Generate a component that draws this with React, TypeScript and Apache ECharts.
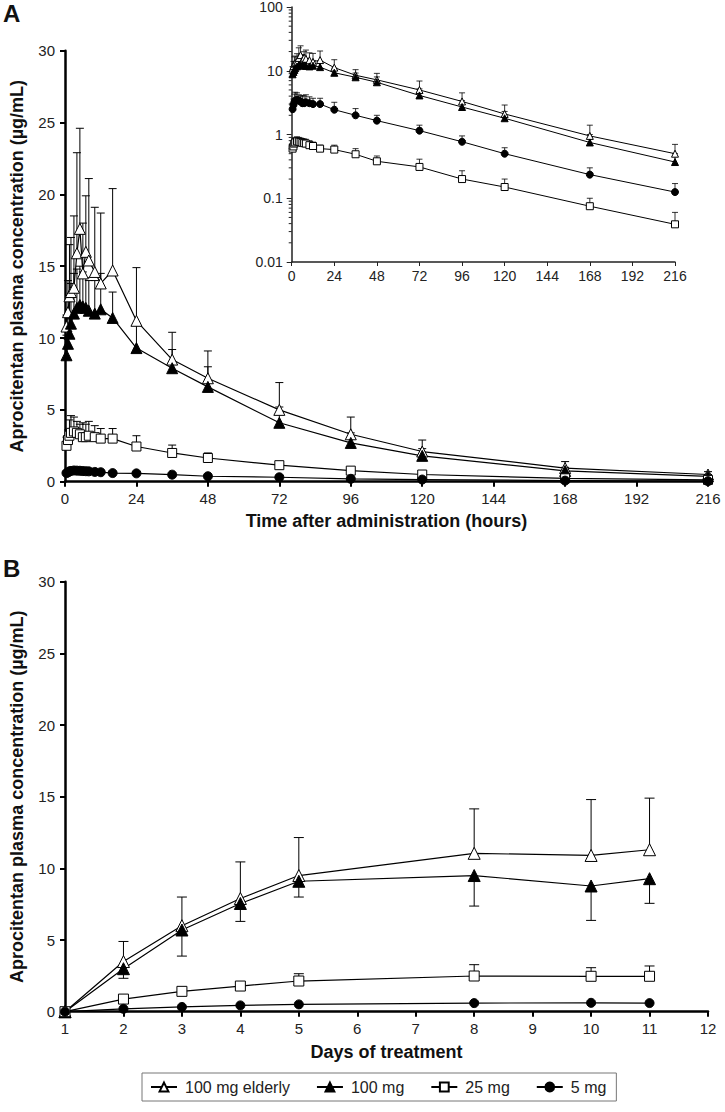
import React, { useEffect, useRef } from "react";
import * as echarts from "echarts";

// ---------- Panel A (single dose, hours) ----------
const hoursA = [0.5, 1, 1.5, 2, 3, 4, 5, 6, 7, 8, 10, 12, 16, 24, 36, 48, 72, 96, 120, 168, 216];
const elderlyMeanA = [10.8, 11.8, 12.9, 13.2, 13.5, 15.9, 17.6, 14.5, 16.0, 15.4, 14.6, 13.8, 14.7, 11.2, 8.5, 7.2, 5.0, 3.3, 2.1, 0.95, 0.5];
const elderlyUpperA = [11.6, 14.0, 16.5, 17.0, 18.5, 22.9, 24.6, 18.0, 19.9, 21.1, 19.1, 18.7, 20.4, 14.9, 10.4, 9.1, 6.9, 4.5, 2.9, 1.4, 0.7];
const mg100MeanA = [8.8, 9.6, 10.3, 11.0, 11.7, 12.1, 12.3, 12.2, 12.1, 11.9, 11.7, 12.0, 11.4, 9.3, 7.9, 6.6, 4.1, 2.7, 1.8, 0.75, 0.37];
const mg100UpperA = [10.2, 11.5, 12.8, 13.8, 14.5, 14.8, 15.0, 14.6, 14.2, 14.0, 14.0, 14.5, 13.2, 11.0, 9.2, 8.0, 5.2, 3.4, 2.3, 1.0, 0.5];
const mg25MeanA = [2.5, 2.9, 3.2, 3.4, 3.5, 3.4, 3.3, 3.1, 3.1, 3.2, 3.1, 3.0, 3.0, 2.45, 2.0, 1.65, 1.15, 0.77, 0.5, 0.235, 0.125];
const mg25UpperA = [3.1, 3.6, 4.3, 4.6, 4.5, 4.2, 4.0, 4.1, 4.0, 4.2, 3.9, 3.7, 3.7, 3.2, 2.55, 2.0, 1.4, 0.95, 0.62, 0.3, 0.17];
const mg5MeanA = [0.6, 0.65, 0.72, 0.75, 0.78, 0.77, 0.76, 0.74, 0.73, 0.72, 0.68, 0.66, 0.6, 0.58, 0.49, 0.38, 0.31, 0.2, 0.15, 0.075, 0.039];
const mg5UpperA = [0.7, 0.78, 0.85, 0.9, 0.92, 0.9, 0.88, 0.86, 0.85, 0.84, 0.8, 0.76, 0.68, 0.68, 0.6, 0.46, 0.41, 0.27, 0.2, 0.1, 0.06];

// ---------- Panel B (multiple dose, days) ----------
const daysB = [1, 2, 3, 4, 5, 8, 10, 11];
const elderlyMeanB = [0, 3.5, 6.0, 7.9, 9.5, 11.05, 10.9, 11.3];
const elderlyUpperB = [0, 4.9, 8.0, 10.45, 12.15, 14.15, 14.8, 14.9];
const mg100MeanB = [0, 3.0, 5.7, 7.55, 9.1, 9.5, 8.77, 9.28];
const mg100LowerB = [0, 2.33, 3.88, 6.3, 8.0, 7.37, 6.37, 7.56];
const mg25MeanB = [0, 0.88, 1.42, 1.79, 2.14, 2.49, 2.47, 2.47];
const mg25UpperB = [0, 0.88, 1.42, 1.79, 2.65, 3.28, 3.07, 3.19];
const mg5MeanB = [0, 0.2, 0.33, 0.44, 0.51, 0.6, 0.62, 0.6];
const mg5LowerB = [0, 0.0, 0.33, 0.44, 0.51, 0.6, 0.62, 0.6];

// ---------- Axis tick labels ----------
const insetYLabels = ["0.01", "0.1", "1", "10", "100"];
const insetMinorTicks = [
  0.02, 0.03, 0.04, 0.05, 0.06, 0.07, 0.08, 0.09,
  0.2, 0.3, 0.4, 0.5, 0.6, 0.7, 0.8, 0.9,
  2, 3, 4, 5, 6, 7, 8, 9,
  20, 30, 40, 50, 60, 70, 80, 90,
];
const legendNames = ["100 mg elderly", "100 mg", "25 mg", "5 mg"];
const yTitle = "Aprocitentan plasma concentration (µg/mL)";

const FONT = "Liberation Sans, Arial, Helvetica, sans-serif";

function pairs(xs: number[], ys: number[]) {
  return xs.map((x, i) => [x, ys[i]]);
}

function errSeries(xi: number, xs: number[], means: number[], ends: number[], capHalf: number, lw: number) {
  return {
    type: "custom",
    xAxisIndex: xi,
    yAxisIndex: xi,
    z: 2,
    silent: true,
    encode: { x: 0, y: [1, 2] },
    data: xs.map((x, i) => [x, means[i], ends[i]]),
    renderItem: (_p: any, api: any) => {
      const a = api.coord([api.value(0), api.value(1)]);
      const b = api.coord([api.value(0), api.value(2)]);
      if (Math.abs(a[1] - b[1]) < 0.5) return { type: "group", children: [] };
      return {
        type: "group",
        children: [
          { type: "line", shape: { x1: a[0], y1: a[1], x2: b[0], y2: b[1] }, style: { stroke: "#000", lineWidth: lw } },
          { type: "line", shape: { x1: b[0] - capHalf, y1: b[1], x2: b[0] + capHalf, y2: b[1] }, style: { stroke: "#000", lineWidth: lw } },
        ],
      };
    },
  };
}

function lineSeries(name: string | undefined, xi: number, xs: number[], ys: number[], symbol: string, size: number, filled: boolean, lw: number) {
  return {
    type: "line",
    name,
    xAxisIndex: xi,
    yAxisIndex: xi,
    data: pairs(xs, ys),
    symbol,
    symbolSize: size,
    showAllSymbol: true,
    z: 3,
    itemStyle: { color: filled ? "#000" : "#fff", borderColor: "#000", borderWidth: 1 },
    lineStyle: { color: "#000", width: lw },
    emphasis: { disabled: true },
  };
}

export default function App() {
  const ref = useRef<HTMLDivElement>(null);
  useEffect(() => {
    if (!ref.current) return;
    const chart = echarts.init(ref.current, undefined, { renderer: "svg" });

    const mainAxisLine = { lineStyle: { color: "#000", width: 2.5 } };
    const mainTick = { show: true, length: 5, lineStyle: { color: "#000", width: 2 } };
    const mainLabel = { fontSize: 15, color: "#222", fontFamily: FONT };
    const titleStyle = { fontWeight: "bold", fontSize: 18, color: "#111", fontFamily: FONT };

    const option: any = {
      animation: false,
      textStyle: { fontFamily: FONT },
      grid: [
        { left: 63.5, top: 50.7, width: 644.5, height: 431 },
        { left: 291.7, top: 7, width: 383.3, height: 255 },
        { left: 65, top: 581.7, width: 643, height: 430 },
      ],
      xAxis: [
        {
          gridIndex: 0, type: "value", min: 0, max: 216, interval: 24,
          axisLine: mainAxisLine, axisTick: mainTick, axisLabel: { ...mainLabel, margin: 9 },
          splitLine: { show: false },
          name: "Time after administration (hours)", nameLocation: "middle", nameGap: 30, nameTextStyle: titleStyle,
        },
        {
          gridIndex: 1, type: "value", min: 0, max: 216, interval: 24,
          axisLine: { lineStyle: { color: "#222", width: 1.5 } },
          axisTick: { show: true, length: 4, lineStyle: { color: "#222", width: 1 } },
          axisLabel: { fontSize: 14, color: "#222", fontFamily: FONT, margin: 7 },
          splitLine: { show: false },
        },
        {
          gridIndex: 2, type: "value", min: 1, max: 12, interval: 1,
          axisLine: mainAxisLine, axisTick: mainTick, axisLabel: { ...mainLabel, margin: 9 },
          splitLine: { show: false },
          name: "Days of treatment", nameLocation: "middle", nameGap: 31, nameTextStyle: titleStyle,
        },
      ],
      yAxis: [
        {
          gridIndex: 0, type: "value", min: 0, max: 30, interval: 5,
          axisLine: mainAxisLine, axisTick: mainTick, axisLabel: { ...mainLabel, margin: 10 },
          splitLine: { show: false },
          name: yTitle, nameLocation: "middle", nameGap: 39, nameTextStyle: titleStyle,
        },
        {
          gridIndex: 1, type: "log", logBase: 10, min: 0.01, max: 100,
          axisLine: { lineStyle: { color: "#222", width: 1.5 } },
          axisTick: { show: true, length: 5, lineStyle: { color: "#222", width: 1 } },
          axisLabel: {
            fontSize: 14, color: "#222", fontFamily: FONT, margin: 9,
            formatter: (v: number) => insetYLabels[Math.round(Math.log10(v)) + 2],
          },
          splitLine: { show: false },
        },
        {
          gridIndex: 2, type: "value", min: 0, max: 30, interval: 5,
          axisLine: mainAxisLine, axisTick: mainTick, axisLabel: { ...mainLabel, margin: 10 },
          splitLine: { show: false },
          name: yTitle, nameLocation: "middle", nameGap: 39, nameTextStyle: titleStyle,
        },
      ],
      legend: {
        data: legendNames,
        left: 142,
        top: 1073,
        itemWidth: 26,
        itemHeight: 11,
        itemGap: 26,
        padding: [6, 10, 6, 8],
        borderColor: "#777",
        borderWidth: 1,
        selectedMode: false,
        textStyle: { fontSize: 16, color: "#222", fontFamily: FONT, padding: [0, 0, 0, 3] },
      },
      graphic: [
        { type: "text", left: 3, top: 1, style: { text: "A", font: `bold 24px ${FONT}`, fill: "#111" } },
        { type: "text", left: 3, top: 556, style: { text: "B", font: `bold 24px ${FONT}`, fill: "#111" } },
      ],
      series: [
        // Panel A main
        lineSeries("100 mg elderly", 0, hoursA, elderlyMeanA, "triangle", 11, false, 1.2),
        lineSeries("100 mg", 0, hoursA, mg100MeanA, "triangle", 11, true, 1.2),
        lineSeries("25 mg", 0, hoursA, mg25MeanA, "rect", 9, false, 1.2),
        lineSeries("5 mg", 0, hoursA, mg5MeanA, "circle", 9, true, 1.2),
        errSeries(0, hoursA, elderlyMeanA, elderlyUpperA, 4, 1),
        errSeries(0, hoursA, mg100MeanA, mg100UpperA, 4, 1),
        errSeries(0, hoursA, mg25MeanA, mg25UpperA, 4, 1),
        errSeries(0, hoursA, mg5MeanA, mg5UpperA, 4, 1),
        // Inset (log scale) — symbols as in the original figure
        lineSeries(undefined, 1, hoursA, elderlyMeanA, "triangle", 7, false, 1),
        lineSeries(undefined, 1, hoursA, mg100MeanA, "triangle", 7, true, 1),
        lineSeries(undefined, 1, hoursA, mg25MeanA, "circle", 7, true, 1),
        lineSeries(undefined, 1, hoursA, mg5MeanA, "rect", 7, false, 1),
        errSeries(1, hoursA, elderlyMeanA, elderlyUpperA, 3, 0.8),
        errSeries(1, hoursA, mg100MeanA, mg100UpperA, 3, 0.8),
        errSeries(1, hoursA, mg25MeanA, mg25UpperA, 3, 0.8),
        errSeries(1, hoursA, mg5MeanA, mg5UpperA, 3, 0.8),
        {
          type: "custom", xAxisIndex: 1, yAxisIndex: 1, silent: true, z: 1,
          data: insetMinorTicks.map((v) => [0, v]),
          renderItem: (_p: any, api: any) => {
            const p = api.coord([0, api.value(1)]);
            return { type: "line", shape: { x1: p[0] - 3, y1: p[1], x2: p[0], y2: p[1] }, style: { stroke: "#222", lineWidth: 1 } };
          },
        },
        // Panel B
        lineSeries(undefined, 2, daysB, elderlyMeanB, "triangle", 12, false, 1.2),
        lineSeries(undefined, 2, daysB, mg100MeanB, "triangle", 12, true, 1.2),
        lineSeries(undefined, 2, daysB, mg25MeanB, "rect", 10, false, 1.2),
        lineSeries(undefined, 2, daysB, mg5MeanB, "circle", 9, true, 1.2),
        errSeries(2, daysB, elderlyMeanB, elderlyUpperB, 5, 1),
        errSeries(2, daysB, mg100MeanB, mg100LowerB, 5, 1),
        errSeries(2, daysB, mg25MeanB, mg25UpperB, 5, 1),
        errSeries(2, daysB, mg5MeanB, mg5LowerB, 5, 1),
      ],
    };
    chart.setOption(option);
    return () => chart.dispose();
  }, []);
  return <div ref={ref} style={{ position: "absolute", left: 0, top: 0, width: 725, height: 1112 }} />;
}
